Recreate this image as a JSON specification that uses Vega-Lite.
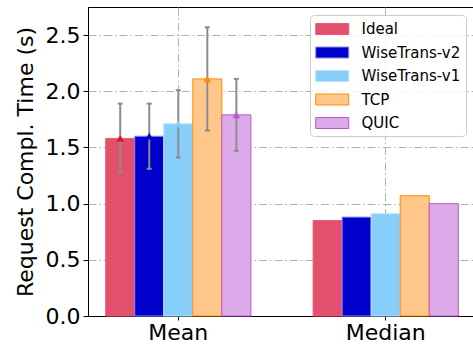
{
  "$schema": "https://vega.github.io/schema/vega-lite/v6.json",
  "width": 388,
  "height": 309,
  "autosize": {"type": "none"},
  "padding": {"left": 88, "top": 7, "right": 0, "bottom": 29},
  "config": {
    "font": "DejaVu Sans",
    "view": {"stroke": "black", "strokeWidth": 1},
    "axis": {
      "labelFont": "DejaVu Sans",
      "labelFontSize": 22,
      "labelColor": "black",
      "tickColor": "black",
      "domainColor": "black",
      "grid": true,
      "gridColor": "#b0b0b0",
      "gridDash": [8, 3, 1.5, 3],
      "gridWidth": 1,
      "zindex": 1
    },
    "legend": {
      "orient": "none",
      "legendX": 222,
      "legendY": 8,
      "symbolType": "M-2,-0.667H2V0.667H-2Z",
      "symbolSize": 272,
      "symbolOffset": 8.25,
      "symbolStrokeWidth": 1,
      "symbolOpacity": 1,
      "labelFont": "DejaVu Sans",
      "labelFontSize": 15,
      "labelColor": "black",
      "labelOffset": 20.25,
      "rowPadding": 6.5,
      "padding": 5,
      "fillColor": "rgba(255,255,255,0.85)",
      "strokeColor": "#cccccc",
      "cornerRadius": 4,
      "zindex": 2
    }
  },
  "data": {
    "values": [
      {"stat": "Mean", "method": "Ideal", "value": 1.58, "lo": 1.28, "hi": 1.89},
      {"stat": "Mean", "method": "WiseTrans-v2", "value": 1.6, "lo": 1.31, "hi": 1.89},
      {"stat": "Mean", "method": "WiseTrans-v1", "value": 1.71, "lo": 1.41, "hi": 2.01},
      {"stat": "Mean", "method": "TCP", "value": 2.11, "lo": 1.65, "hi": 2.57},
      {"stat": "Mean", "method": "QUIC", "value": 1.79, "lo": 1.47, "hi": 2.11},
      {"stat": "Median", "method": "Ideal", "value": 0.85},
      {"stat": "Median", "method": "WiseTrans-v2", "value": 0.88},
      {"stat": "Median", "method": "WiseTrans-v1", "value": 0.91},
      {"stat": "Median", "method": "TCP", "value": 1.07},
      {"stat": "Median", "method": "QUIC", "value": 1.0}
    ]
  },
  "encoding": {
    "x": {
      "field": "stat",
      "type": "nominal",
      "scale": {"type": "band", "paddingInner": 0.3, "paddingOuter": 0.0853},
      "axis": {"title": null, "labelAngle": 0, "tickSize": 4, "labelPadding": 2, "bandPosition": 0.5}
    },
    "xOffset": {
      "field": "method",
      "type": "nominal",
      "scale": {
        "domain": ["Ideal", "WiseTrans-v2", "WiseTrans-v1", "TCP", "QUIC"],
        "paddingInner": 0,
        "paddingOuter": 0
      }
    }
  },
  "layer": [
    {
      "mark": {"type": "bar", "strokeWidth": 1},
      "encoding": {
        "y": {
          "field": "value",
          "type": "quantitative",
          "scale": {"domain": [0, 2.75], "nice": false},
          "axis": {
            "title": "Request Compl. Time (s)",
            "titleFontSize": 22,
            "titleFontWeight": "normal",
            "titleColor": "black",
            "titleFont": "DejaVu Sans",
            "titlePadding": 8,
            "values": [0, 0.5, 1, 1.5, 2, 2.5],
            "format": ".1f",
            "tickSize": 5,
            "labelPadding": 3
          }
        },
        "fill": {
          "field": "method",
          "type": "nominal",
          "scale": {
            "domain": ["Ideal", "WiseTrans-v2", "WiseTrans-v1", "TCP", "QUIC"],
            "range": ["#e4506c", "#0000cd", "#87cefa", "#ffc88a", "#dcaae9"]
          },
          "legend": {"title": null}
        },
        "stroke": {
          "field": "method",
          "type": "nominal",
          "scale": {
            "domain": ["Ideal", "WiseTrans-v2", "WiseTrans-v1", "TCP", "QUIC"],
            "range": ["#e8587a", "#8a8aff", "#b8e2ff", "#ff8c00", "#ba55d3"]
          },
          "legend": {"title": null}
        }
      }
    },
    {
      "transform": [{"filter": "isValid(datum.lo)"}],
      "mark": {"type": "rule", "color": "#8c8c8c", "strokeWidth": 2},
      "encoding": {
        "y": {"field": "lo", "type": "quantitative"},
        "y2": {"field": "hi"}
      }
    },
    {
      "transform": [{"filter": "isValid(datum.lo)"}],
      "mark": {"type": "tick", "color": "#8c8c8c", "thickness": 2, "size": 5, "opacity": 1},
      "encoding": {
        "y": {"field": "lo", "type": "quantitative"}
      }
    },
    {
      "transform": [{"filter": "isValid(datum.hi)"}],
      "mark": {"type": "tick", "color": "#8c8c8c", "thickness": 2, "size": 5, "opacity": 1},
      "encoding": {
        "y": {"field": "hi", "type": "quantitative"}
      }
    },
    {
      "transform": [{"filter": "datum.stat === 'Mean'"}],
      "mark": {"type": "point", "shape": "triangle-up", "filled": true, "size": 60, "opacity": 1},
      "encoding": {
        "y": {"field": "value", "type": "quantitative"},
        "color": {
          "field": "method",
          "type": "nominal",
          "scale": {
            "domain": ["Ideal", "WiseTrans-v2", "WiseTrans-v1", "TCP", "QUIC"],
            "range": ["#dc143c", "#0000cd", "#87cefa", "#ff8c00", "#ba55d3"]
          },
          "legend": null
        }
      }
    }
  ]
}
